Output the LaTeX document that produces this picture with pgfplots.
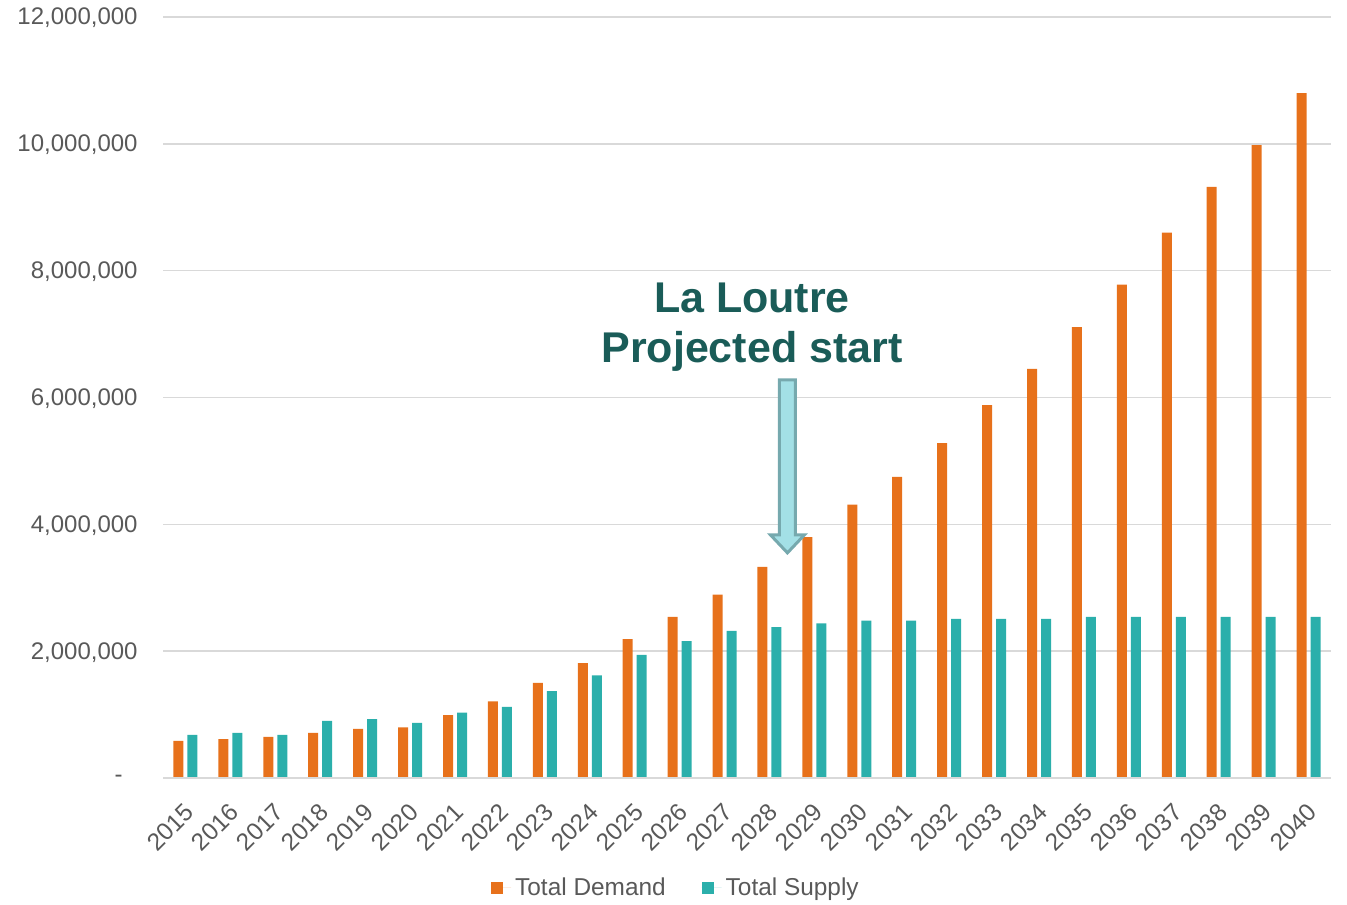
\documentclass[border=0pt]{standalone}
\usepackage{pgfplots}
\pgfplotsset{compat=1.18}
\usepackage{fontspec}
\setmainfont{Liberation Sans}
\definecolor{cDem}{HTML}{E7711B}
\definecolor{cSup}{HTML}{2BAFAB}
\definecolor{cGrid}{HTML}{D9D9D9}
\definecolor{cTick}{HTML}{595959}
\definecolor{cNote}{HTML}{1A5C58}
\definecolor{cArrF}{HTML}{A3E0E6}
\definecolor{cArrD}{HTML}{76A9AE}
\begin{document}
\begin{tikzpicture}
\useasboundingbox (0,0) rectangle (673.5pt,452pt);
\begin{axis}[
  at={(81.5pt,63pt)}, anchor=south west,
  scale only axis, width=584pt, height=380.5pt,
  ybar=2pt, bar width=5pt,
  xmin=-0.5, xmax=25.5, ymin=0, ymax=12000000,
  axis line style={draw=none},
  axis x line*=bottom,
  xtick=data,
  xticklabels={2015,2016,2017,2018,2019,2020,2021,2022,2023,2024,2025,2026,2027,2028,2029,2030,2031,2032,2033,2034,2035,2036,2037,2038,2039,2040},
  x tick label style={rotate=45, anchor=north east, font=\fontsize{12.2}{14}\selectfont, text=cTick, inner sep=1pt, xshift=-8pt, yshift=-6.5pt},
  ytick={0,2000000,4000000,6000000,8000000,10000000,12000000},
  yticklabels={{\makebox[11.5pt][l]{-}},{2,000,000},{4,000,000},{6,000,000},{8,000,000},{10,000,000},{12,000,000}},
  y tick label style={font=\fontsize{12}{14}\selectfont, text=cTick, xshift=-11.5pt, yshift=-0.5pt, inner sep=1pt},
  major tick length=0pt,
  ymajorgrids, grid style={cGrid, line width=0.75pt},
  clip=false,
  legend columns=2,
  legend style={at={(0.44,-0.1445)}, anchor=center, draw=none, fill=none,
    font=\fontsize{12.2}{14}\selectfont, text=cTick,
    /tikz/every even column/.append style={column sep=16pt}},
  legend image code/.code={\fill[#1] (0pt,-3pt) rectangle (6pt,3pt); \path (0pt,0pt) -- (10pt,0pt);},
]
\addplot[fill=cDem, draw=none] coordinates {
(0,584000) (1,615000) (2,647000) (3,710000) (4,773000) (5,800000) (6,990000) (7,1210000) (8,1500000) (9,1810000) (10,2190000) (11,2540000) (12,2890000) (13,3330000) (14,3800000) (15,4310000) (16,4750000) (17,5280000) (18,5880000) (19,6450000) (20,7110000) (21,7780000) (22,8600000) (23,9320000) (24,9980000) (25,10800000)};
\addlegendentry{Total Demand}
\addplot[fill=cSup, draw=none] coordinates {
(0,680000) (1,710000) (2,680000) (3,900000) (4,930000) (5,870000) (6,1030000) (7,1120000) (8,1370000) (9,1620000) (10,1940000) (11,2160000) (12,2320000) (13,2380000) (14,2440000) (15,2480000) (16,2480000) (17,2510000) (18,2510000) (19,2510000) (20,2540000) (21,2540000) (22,2540000) (23,2540000) (24,2540000) (25,2540000)};
\addlegendentry{Total Supply}
\draw[line width=0.75pt, cGrid] (axis cs:-0.5,0) -- (axis cs:25.5,0);
\coordinate (tip) at (axis cs:13.40,3550000);
\node[align=center, text=cNote, font=\fontsize{21.5}{25}\selectfont\bfseries] at (axis cs:12.61,7110000) {La Loutre\\Projected start};
\end{axis}
\draw[fill=cArrF, draw=cArrD, line width=1.5pt, line join=miter]
  (tip) -- ++(-8.5pt,9pt) -- ++(4.5pt,0) -- ++(0,77.5pt) -- ++(8pt,0) -- ++(0,-77.5pt) -- ++(4.5pt,0) -- cycle;
\end{tikzpicture}
\end{document}
